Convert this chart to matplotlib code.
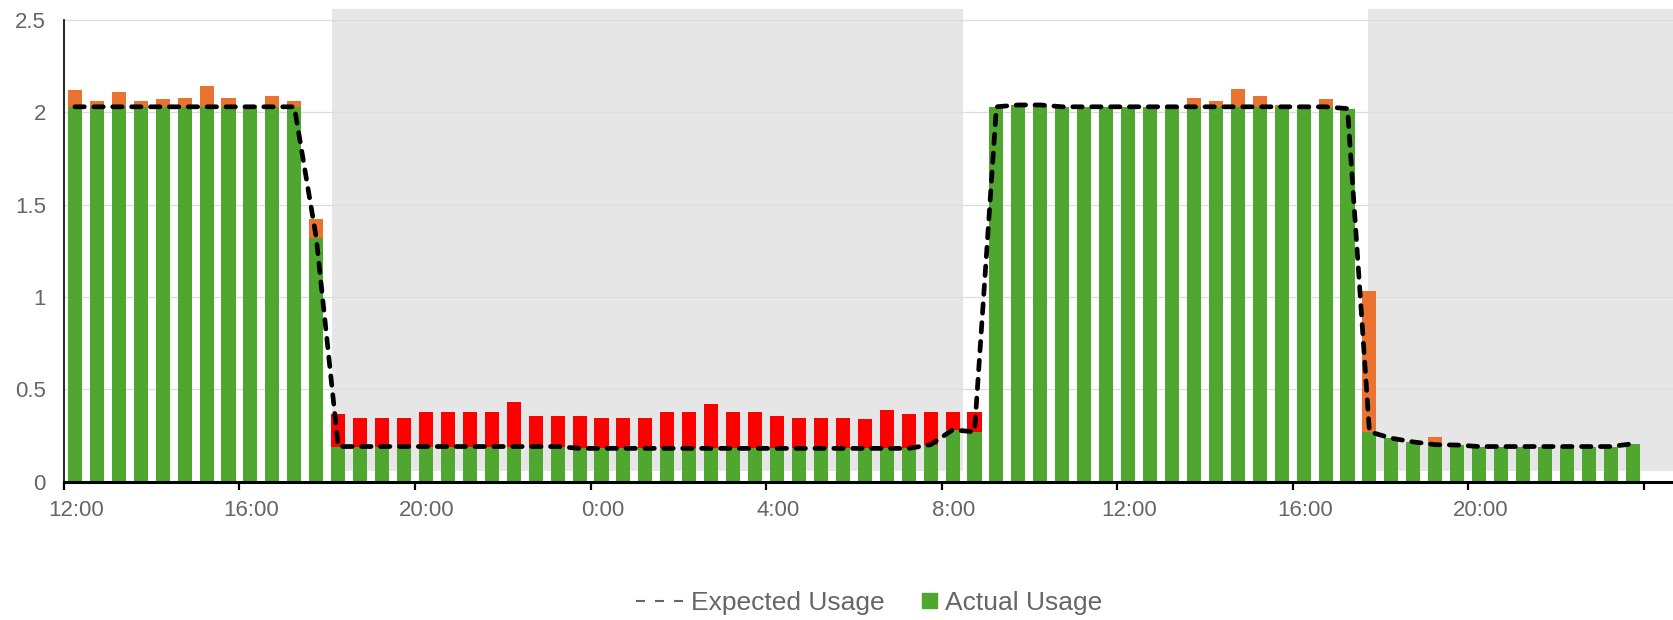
import numpy as np
import pandas as pd
import matplotlib
matplotlib.use("Agg")
import matplotlib.pyplot as plt
from matplotlib.lines import Line2D
from matplotlib.patches import Rectangle
from matplotlib.legend_handler import HandlerPatch
from matplotlib.transforms import ScaledTranslation

plt.rcParams["font.family"] = ["Liberation Sans", "DejaVu Sans"]

# ── Données (pas de 30 min, barres centrées au milieu du créneau) ─────────────
origin = pd.Timestamp("2024-01-01 12:00")
times = pd.date_range("2024-01-01 12:15", periods=72, freq="30min")

expected = [
    # 12:15 → 17:45
    2.03, 2.03, 2.03, 2.03, 2.03, 2.03, 2.03, 2.03, 2.03, 2.03, 2.03, 1.32,
    # 18:15 → 23:45
    0.19, 0.19, 0.19, 0.19, 0.19, 0.19, 0.19, 0.19, 0.19, 0.19, 0.19, 0.18,
    # 0:15 → 8:45
    0.18, 0.18, 0.18, 0.18, 0.18, 0.18, 0.18, 0.18, 0.18, 0.18, 0.18, 0.18,
    0.18, 0.18, 0.18, 0.20, 0.28, 0.27,
    # 9:15 → 17:15
    2.03, 2.04, 2.04, 2.03, 2.03, 2.03, 2.03, 2.03, 2.03, 2.03, 2.03, 2.03,
    2.03, 2.03, 2.03, 2.03, 2.02,
    # 17:45 → 23:45
    0.27, 0.235, 0.215, 0.20, 0.198, 0.19, 0.19, 0.19, 0.19, 0.19, 0.19, 0.19,
    0.205,
]

actual = [
    2.12, 2.06, 2.11, 2.06, 2.07, 2.08, 2.14, 2.08, 2.04, 2.09, 2.06, 1.42,
    0.365, 0.346, 0.346, 0.346, 0.379, 0.379, 0.379, 0.379, 0.43, 0.357, 0.357, 0.357,
    0.346, 0.346, 0.346, 0.379, 0.379, 0.42, 0.379, 0.379, 0.357, 0.346, 0.346, 0.346,
    0.337, 0.388, 0.366, 0.379, 0.379, 0.379,
    2.03, 2.04, 2.04, 2.03, 2.03, 2.03, 2.03, 2.03, 2.03, 2.08, 2.06, 2.125,
    2.09, 2.04, 2.04, 2.07, 2.02,
    1.03, 0.235, 0.215, 0.243, 0.198, 0.19, 0.19, 0.19, 0.19, 0.19, 0.19, 0.19,
    0.205,
]

# dépassement en rouge pendant la première nuit, orange sinon
night_start = pd.Timestamp("2024-01-01 18:00")
night_end = pd.Timestamp("2024-01-02 09:00")

# bandes grises (heures creuses), en heures depuis 12:00
shade_spans = [(6.1, 20.49), (29.72, 36.7)]

tick_hours = [0, 4, 8, 12, 16, 20, 24, 28, 32, 36]
tick_labels = ["12:00", "16:00", "20:00", "0:00", "4:00", "8:00",
               "12:00", "16:00", "20:00", ""]

GREEN = "#4fa72f"
ORANGE = "#ea7331"
RED = "#ff0000"
TXT = "#666666"

# ── Calculs ───────────────────────────────────────────────────────────────────
x = ((times - origin) / pd.Timedelta(hours=1)).to_numpy()
exp_arr = np.array(expected)
act_arr = np.array(actual)
base = np.minimum(act_arr, exp_arr)
over = np.clip(act_arr - exp_arr, 0, None)
is_night = (times >= night_start) & (times < night_end)
over_colors = np.where(is_night, RED, ORANGE)

# ── Figure ────────────────────────────────────────────────────────────────────
fig = plt.figure(figsize=(16.74, 6.2), dpi=100)
ax = fig.add_axes([0.0382, 0.2232, 0.9618, 0.7618])

for x0, x1 in shade_spans:
    ax.axvspan(x0, x1, ymin=0.0224, ymax=1, color="#e6e6e6", lw=0, zorder=0)

bar_w = 0.32
ax.bar(x, base, width=bar_w, color=GREEN, lw=0, zorder=2)
ax.bar(x, over, bottom=base, width=bar_w, color=over_colors, lw=0, zorder=2)

line, = ax.plot(x, exp_arr, color="black", lw=3.4, zorder=3,
                dash_capstyle="round", solid_joinstyle="round")
line.set_dashes((2.0, 2.0))

ax.set_xlim(0, 36.69)
ax.set_ylim(0, 2.558)
ax.set_yticks([0, 0.5, 1, 1.5, 2, 2.5])
ax.set_yticklabels(["0", "0.5", "1", "1.5", "2", "2.5"])
ax.set_xticks(tick_hours)
ax.set_xticklabels(tick_labels)

ax.set_axisbelow(True)
ax.yaxis.grid(True, color="#dcdcdc", lw=0.9)

for side in ["top", "right"]:
    ax.spines[side].set_visible(False)
ax.spines["left"].set_bounds(0, 2.5)
ax.spines["left"].set_linewidth(1.2)
ax.spines["bottom"].set_linewidth(2.2)
ax.spines["bottom"].set_zorder(4)

ax.tick_params(axis="y", length=0, pad=13, labelsize=16, labelcolor=TXT)
ax.tick_params(axis="x", length=6, width=1.6, pad=7, labelsize=16, labelcolor=TXT)

shift = ScaledTranslation(12 / 100, 0, fig.dpi_scale_trans)
for lbl in ax.get_xticklabels():
    lbl.set_transform(lbl.get_transform() + shift)


# carré de légende collé au texte (côté droit de la zone du symbole)
def square_at_right(legend, orig_handle, xdescent, ydescent, width, height, fontsize):
    sq = 10.8
    return Rectangle((width - xdescent - sq, -ydescent + (height - sq) / 2), sq, sq)


handles = [
    Line2D([], [], color=TXT, lw=1.5, dashes=(4.33, 4.8)),
    Rectangle((0, 0), 1, 1, color=GREEN),
]
fig.legend(handles, ["Expected Usage", "Actual Usage"], loc="center",
           bbox_to_anchor=(869 / 1674, 1 - 603 / 620), ncol=2, frameon=False,
           fontsize=19, labelcolor=TXT, handlelength=1.78, handletextpad=0.3,
           columnspacing=0.2, borderpad=0,
           handler_map={Rectangle: HandlerPatch(patch_func=square_at_right)})

plt.savefig("out.png", dpi=100)
plt.close()
